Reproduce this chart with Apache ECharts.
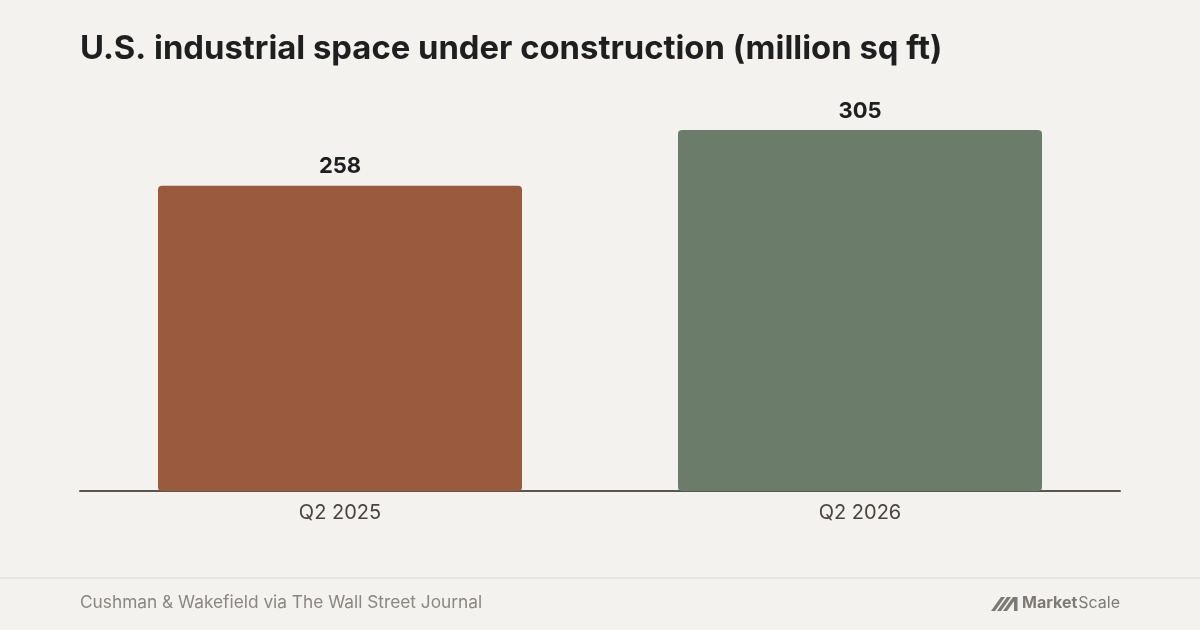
<!DOCTYPE html>
<html>
<head>
<meta charset="utf-8">
<script src="https://cdn.jsdelivr.net/npm/echarts@6/dist/echarts.min.js"></script>
<style>
html,body{margin:0;padding:0;background:#f3f2ee;}
#chart{width:1200px;height:630px;}
</style>
</head>
<body>
<div id="chart"></div>
<script>
const categories = ['Q2 2025', 'Q2 2026'];
const values = [258, 305];
const barColors = ['#9a5a3d', '#6b7c6a'];

const chart = echarts.init(document.getElementById('chart'), null, {renderer: 'canvas'});
const font = 'Inter, "Noto Sans", sans-serif';
chart.setOption({
  backgroundColor: '#f3f2ee',
  animation: false,
  title: {
    text: 'U.S. industrial space under construction (million sq ft)',
    left: 75, top: 28,
    textStyle: {fontFamily: font, fontSize: 32.8, fontWeight: 'bold', color: '#1f1f1f'}
  },
  grid: {left: 80, right: 80, top: 130, bottom: 139, containLabel: false},
  xAxis: {
    type: 'category',
    data: categories,
    axisLine: {show: true, lineStyle: {color: '#5a554f', width: 2}},
    axisTick: {show: false},
    axisLabel: {fontFamily: font, fontSize: 20, color: '#4a4540', margin: 12}
  },
  yAxis: {
    type: 'value', min: 0, max: 305,
    show: false,
    splitLine: {show: false}
  },
  series: [{
    type: 'bar',
    barWidth: '70%',
    data: values.map((v, i) => ({value: v, itemStyle: {color: barColors[i]}})),
    itemStyle: {borderRadius: 4},
    label: {
      show: true, position: 'top', distance: 8,
      fontFamily: font, fontSize: 22, fontWeight: 'bold', color: '#1f1f1f'
    },
    z: 1
  }],
  graphic: [
    {type: 'rect', shape: {x: 0, y: 577, width: 1200, height: 2}, style: {fill: '#e6e4df'}},
    {type: 'text', left: 80, top: 594, style: {text: 'Cushman & Wakefield via The Wall Street Journal', fontFamily: font, fontSize: 17.3, fill: '#8a8681'}},
    {type: 'group', left: 991, top: 597, children: [
      {type: 'polygon', shape: {points: [[0,14],[4,14],[14,0],[10,0]]}, style: {fill: '#7d7a76'}},
      {type: 'polygon', shape: {points: [[6,14],[10,14],[20,0],[16,0]]}, style: {fill: '#7d7a76'}},
      {type: 'polygon', shape: {points: [[12,14],[16,14],[26,0],[22,0]]}, style: {fill: '#7d7a76'}},
      {type: 'rect', shape: {x: 23, y: 0, width: 3.5, height: 14}, style: {fill: '#7d7a76'}}
    ]},
    {type: 'text', left: 1022, top: 595, style: {text: 'Market', fontFamily: font, fontSize: 16, fontWeight: 'bold', fill: '#7d7a76'}},
    {type: 'text', right: 80, top: 595, style: {text: 'Scale', fontFamily: font, fontSize: 16, fill: '#7d7a76'}}
  ]
});
</script>
</body>
</html>
